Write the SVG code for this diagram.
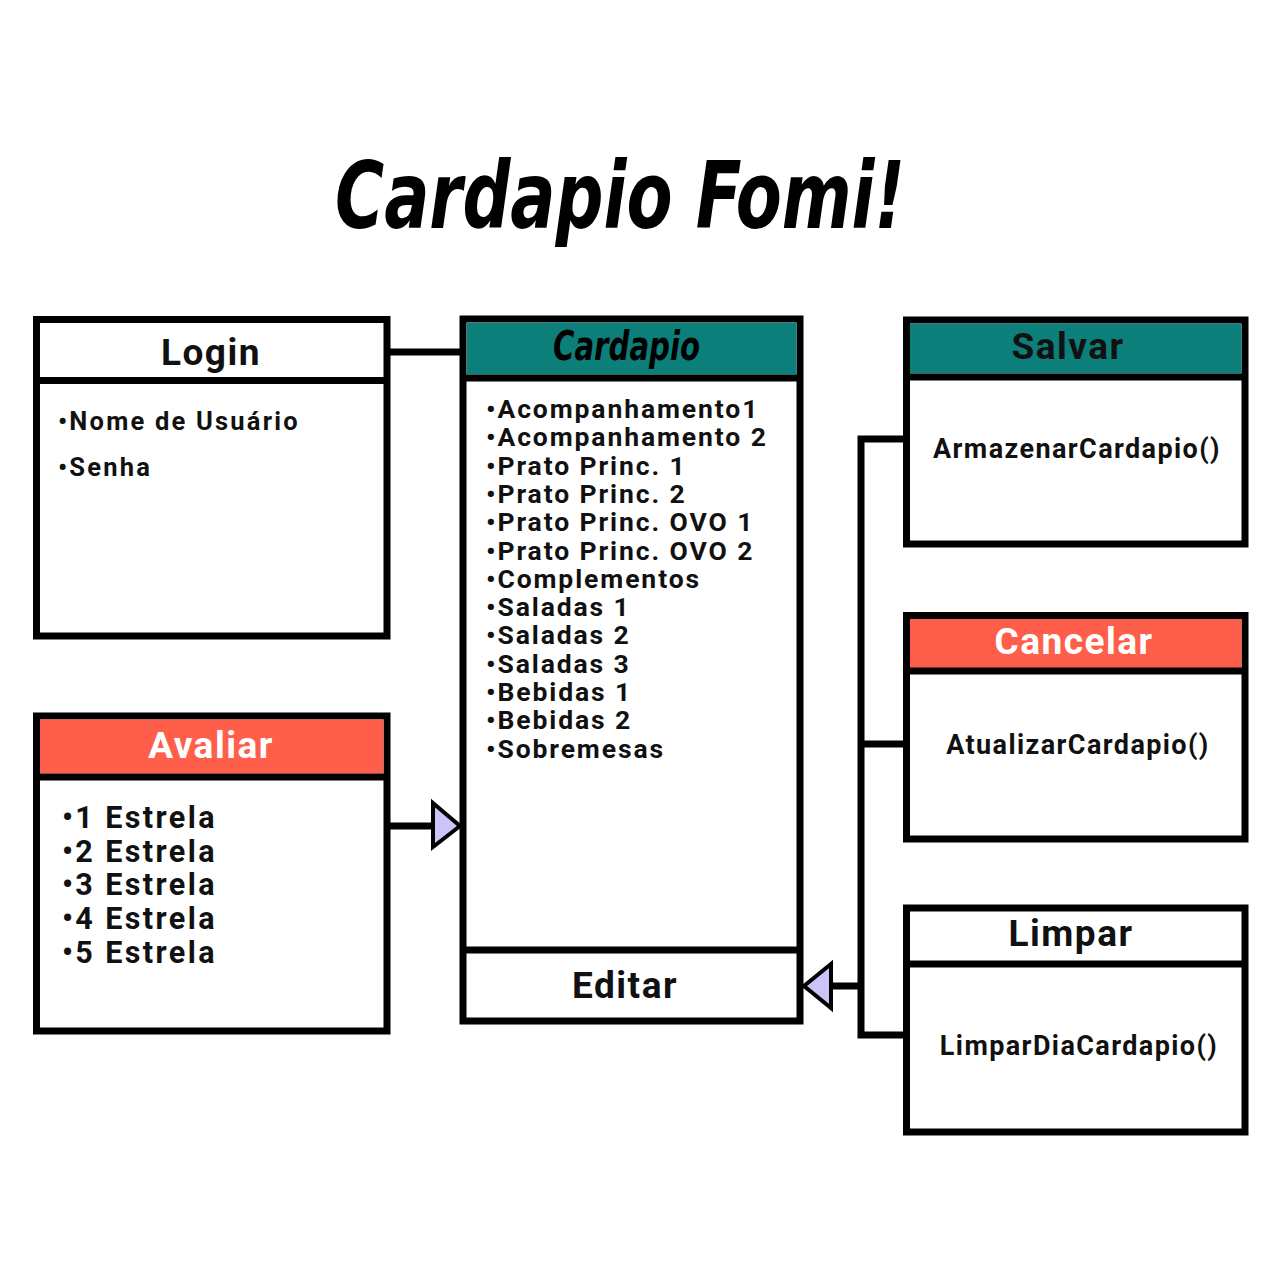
<svg xmlns="http://www.w3.org/2000/svg" width="1280" height="1280" viewBox="0 0 1280 1280">
  <defs>
    <style>
      .box { fill: #ffffff; stroke: #000000; stroke-width: 7; }
      .div { stroke: #000000; stroke-width: 7; fill: none; }
      .teal { fill: #0d7f7a; }
      .coral { fill: #ff5f4a; }
      .wire { stroke: #000000; stroke-width: 7; fill: none; stroke-linejoin: miter; }
      .head { fill: #cbc4f6; stroke: #000000; stroke-width: 4; stroke-linejoin: miter; }
      .t { font-family: Roboto, "Liberation Sans", sans-serif; font-weight: 700; fill: #111111; }
      .ttl { font-size: 37px; letter-spacing: 1.5px; text-anchor: middle; }
      .item { font-size: 25.5px; letter-spacing: 2.2px; }
      .menu { font-size: 26.5px; letter-spacing: 1.9px; }
      .star { font-size: 30.5px; letter-spacing: 2.4px; }
      .meth { font-size: 27px; letter-spacing: 1.4px; text-anchor: middle; }
      .white { fill: #ffffff; }
      .brand { font-family: "Liberation Sans Narrow", "DejaVu Sans Condensed", "Liberation Sans", sans-serif; font-weight: 700; font-style: italic; fill: #000000; }
    </style>
  </defs>

  <!-- heading -->
  <text class="brand" x="335" y="228" font-size="92" textLength="570" lengthAdjust="spacingAndGlyphs">Cardapio Fomi!</text>

  <!-- connectors -->
  <g id="connectors">
    <!-- Login to Cardapio -->
    <line class="wire" x1="387" y1="352" x2="463" y2="352"/>
    <!-- Avaliar to Cardapio -->
    <line class="wire" x1="387" y1="826" x2="434" y2="826"/>
    <polygon class="head" points="433,803 433,847 460,826"/>
    <!-- bus from the action boxes to Editar -->
    <polyline class="wire" points="906,439 861,439 861,1035 906,1035"/>
    <line class="wire" x1="861" y1="744" x2="906" y2="744"/>
    <line class="wire" x1="861" y1="986" x2="830" y2="986"/>
    <polygon class="head" points="831,964 831,1008 804,986"/>
  </g>

  <!-- Login -->
  <g id="login">
    <rect class="box" x="36.5" y="319.5" width="350.5" height="316.5"/>
    <line class="div" x1="36.5" y1="380.5" x2="387" y2="380.5"/>
    <text class="t ttl" x="211" y="365">Login</text>
    <text class="t item" x="58" y="430">•Nome de Usuário</text>
    <text class="t item" x="58" y="476">•Senha</text>
  </g>

  <!-- Cardapio -->
  <g id="cardapio">
    <rect class="box" x="463" y="319" width="337" height="702"/>
    <rect class="teal" x="466.5" y="322.5" width="330" height="52"/>
    <line class="div" x1="463" y1="378" x2="800" y2="378"/>
    <line class="div" x1="463" y1="950" x2="800" y2="950"/>
    <text class="brand" x="553" y="360" font-size="40" textLength="147" lengthAdjust="spacingAndGlyphs">Cardapio</text>
    <g class="t menu">
      <text x="486" y="418">•Acompanhamento1</text>
      <text x="486" y="446.3">•Acompanhamento 2</text>
      <text x="486" y="474.6">•Prato Princ. 1</text>
      <text x="486" y="502.9">•Prato Princ. 2</text>
      <text x="486" y="531.2">•Prato Princ. OVO 1</text>
      <text x="486" y="559.5">•Prato Princ. OVO 2</text>
      <text x="486" y="587.8">•Complementos</text>
      <text x="486" y="616.1">•Saladas 1</text>
      <text x="486" y="644.4">•Saladas 2</text>
      <text x="486" y="672.7">•Saladas 3</text>
      <text x="486" y="701">•Bebidas 1</text>
      <text x="486" y="729.3">•Bebidas 2</text>
      <text x="486" y="757.6">•Sobremesas</text>
    </g>
    <text class="t ttl" x="625" y="998" font-size="29">Editar</text>
  </g>

  <!-- Avaliar -->
  <g id="avaliar">
    <rect class="box" x="36.5" y="716" width="350.5" height="315"/>
    <rect class="coral" x="40" y="719.5" width="343.5" height="54"/>
    <line class="div" x1="36.5" y1="777" x2="387" y2="777"/>
    <text class="t ttl white" x="211" y="758" font-size="38">Avaliar</text>
    <g class="t star">
      <text x="62" y="828">•1 Estrela</text>
      <text x="62" y="861.7">•2 Estrela</text>
      <text x="62" y="895.4">•3 Estrela</text>
      <text x="62" y="929.1">•4 Estrela</text>
      <text x="62" y="962.8">•5 Estrela</text>
    </g>
  </g>

  <!-- Salvar -->
  <g id="salvar">
    <rect class="box" x="906.5" y="320" width="338.5" height="224"/>
    <rect class="teal" x="910" y="323.5" width="331.5" height="50"/>
    <line class="div" x1="906.5" y1="377" x2="1245" y2="377"/>
    <text class="t ttl" x="1068" y="359" font-size="29" fill="#152220">Salvar</text>
    <text class="t meth" x="1077" y="458">ArmazenarCardapio()</text>
  </g>

  <!-- Cancelar -->
  <g id="cancelar">
    <rect class="box" x="906.5" y="615.5" width="338.5" height="223.5"/>
    <rect class="coral" x="910" y="619" width="331.5" height="49"/>
    <line class="div" x1="906.5" y1="671" x2="1245" y2="671"/>
    <text class="t ttl white" x="1074" y="654" font-size="28.5">Cancelar</text>
    <text class="t meth" x="1078" y="754">AtualizarCardapio()</text>
  </g>

  <!-- Limpar -->
  <g id="limpar">
    <rect class="box" x="906.5" y="908" width="338.5" height="224"/>
    <line class="div" x1="906.5" y1="964" x2="1245" y2="964"/>
    <text class="t ttl" x="1071" y="946" font-size="28.5">Limpar</text>
    <text class="t meth" x="1079" y="1055">LimparDiaCardapio()</text>
  </g>
</svg>
